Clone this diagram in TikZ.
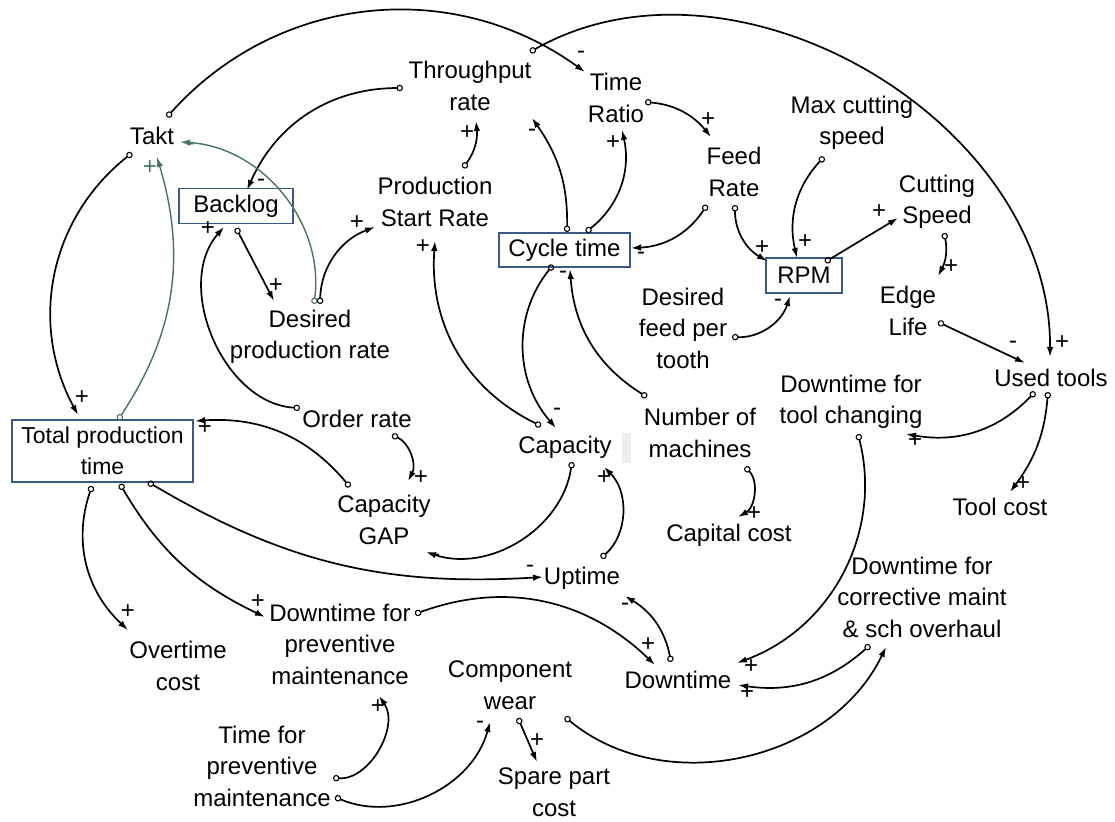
\documentclass[tikz,border=0pt]{standalone}
\usepackage{fontspec}
\setmainfont{Liberation Sans}
\usetikzlibrary{arrows.meta,calc}
\definecolor{boxblue}{RGB}{60,88,138}
\definecolor{loopgreen}{RGB}{74,116,98}
\tikzset{
  var/.style={align=center, inner sep=0pt, font=\fontsize{24}{31.5}\selectfont},
  boxed/.style={var, draw=boxblue, line width=1.6pt},
  link/.style={line width=1.7pt,
    {Circle[open,length=6.5pt,line width=1.1pt]}-{Latex[length=10pt,width=6.5pt]}},
  glink/.style={link, draw=loopgreen, line width=1.4pt},
  sign/.style={inner sep=0pt, font=\fontsize{24}{24}\selectfont},
  gsign/.style={sign, text=loopgreen},
}
\begin{document}
\begin{tikzpicture}[x=1pt,y=-1pt]
\fill[white] (0,0) rectangle (1115,821);
\useasboundingbox (0,0) rectangle (1115,821);

% faint shaded strip beside Capacity
\fill[black!7] (622,433) rectangle (631,463);

% variables
\node[var] (takt) at (152,136) {Takt};
\node[var] (thru) at (470,86) {Throughput\\rate};
\node[var] (timeratio) at (616,98) {Time\\Ratio};
\node[var] (maxcut) at (852,123) {Max cutting\\speed};
\node[var] (feed) at (734,172) {Feed\\Rate};
\node[var] (cutspeed) at (937,202) {Cutting\\Speed};
\node[boxed, minimum width=114pt, minimum height=35pt] (backlog) at (236,206) {Backlog};
\node[var] (pstart) at (435,202) {Production\\Start Rate};
\node[boxed, minimum width=131pt, minimum height=34pt] (cycle) at (564.5,250) {Cycle time};
\node[boxed, minimum width=76pt, minimum height=35pt] (rpm) at (804,275.5) {RPM};
\node[var] (edge) at (908,311) {Edge\\Life};
\node[var] (desprod) at (310,337) {Desired\\production rate};
\node[var] (desfeed) at (683,328) {Desired\\feed per\\tooth};
\node[var] (used) at (1051,378) {Used tools};
\node[var] (dttool) at (851,402) {Downtime for\\tool changing};
\node[var] (order) at (357,419) {Order rate};
\node[boxed, minimum width=181pt, minimum height=62pt,
      font=\fontsize{23}{31}\selectfont] (tpt) at (102.5,451) {Total production\\time};
\node[var] (capacity) at (565,447) {Capacity};
\node[var] (nmach) at (700,433) {Number of\\machines};
\node[var] (capgap) at (384,520) {Capacity\\GAP};
\node[var] (capital) at (729,535) {Capital cost};
\node[var] (toolcost) at (1000,507) {Tool cost};
\node[var] (uptime) at (582,578) {Uptime};
\node[var] (dcm) at (922,597) {Downtime for\\corrective maint\\\& sch overhaul};
\node[var] (overtime) at (178,666) {Overtime\\cost};
\node[var] (dpm) at (340,644) {Downtime for\\preventive\\maintenance};
\node[var] (compwear) at (510,685) {Component\\wear};
\node[var] (downtime) at (678,680) {Downtime};
\node[var] (tpm) at (262,766) {Time for\\preventive\\maintenance};
\node[var] (spare) at (554,792) {Spare part\\cost};

% causal links
\draw[link] ($(takt)+(15,-19)$) to[bend left=42] ($(timeratio)+(-31,-26)$);
\draw[link] ($(thru)+(60,-34)$) to[bend left=60] ($(used)+(-1,-21)$);
\draw[link] ($(thru)+(-67,2)$) to[bend right=33] ($(backlog)+(11,-16)$);
\draw[link] ($(takt)+(-20,17)$) to[bend right=40] ($(tpt)+(-24.5,-36)$);
\draw[glink] ($(tpt)+(15.5,-31)$) to[bend right=25] ($(takt)+(5,21)$);
\draw[glink] ($(desprod)+(4,-33)$) to[bend right=47] ($(takt)+(28,6)$);
\draw[link] ($(backlog)+(0,22)$) -- ($(desprod)+(-36,-36)$);
\draw[link] ($(order)+(-57,-11)$) to[bend left=64] ($(backlog)+(-12,21)$);
\draw[link] ($(desprod)+(10,-33)$) to[bend left=34] ($(pstart)+(-60,25)$);
\draw[link] ($(pstart)+(28,-34)$) to[bend right=21] ($(thru)+(6,35)$);
\draw[link] ($(cycle)+(2.5,-18)$) to[bend right=18] ($(thru)+(62,32)$);
\draw[link] ($(cycle)+(21.5,-18)$) to[bend right=32] ($(timeratio)+(6,32)$);
\draw[link] ($(timeratio)+(29,4)$) to[bend left=23] ($(feed)+(-23,-35)$);
\draw[link] ($(feed)+(-27,33)$) to[bend left=27] ($(cycle)+(66.5,-2)$);
\draw[link] ($(feed)+(1,33)$) to[bend right=30] ($(rpm)+(-37,-14.5)$);
\draw[link] ($(maxcut)+(-28,34)$) to[bend right=28] ($(rpm)+(-7,-17.5)$);
\draw[link] ($(rpm)+(21,-13.5)$) -- ($(cutspeed)+(-39,16)$);
\draw[link] ($(desfeed)+(49,9)$) to[bend right=37] ($(rpm)+(-14,20.5)$);
\draw[link] ($(cutspeed)+(7,31)$) to[bend left=20] ($(edge)+(30,-35)$);
\draw[link] ($(edge)+(30,11)$) -- ($(used)+(-26,-15)$);
\draw[link] ($(used)+(-16,14)$) to[bend left=28] ($(dttool)+(55,32)$);
\draw[link] ($(used)+(-3,14)$) to[bend left=16] ($(toolcost)+(10,-15)$);
\draw[link] ($(dttool)+(7,32)$) to[bend left=42] ($(downtime)+(59,-17)$);
\draw[link] ($(dcm)+(-52,48)$) to[bend left=25] ($(downtime)+(60,5)$);
\draw[link] ($(compwear)+(55,32)$) to[bend right=52] ($(dcm)+(-36,50)$);
\draw[link] ($(uptime)+(19,-20)$) to[bend right=47] ($(capacity)+(39,20)$);
\draw[link] ($(capacity)+(7,15)$) to[bend left=50] ($(capgap)+(42,32)$);
\draw[link] ($(cycle)+(-11.5,15)$) to[bend right=40] ($(capacity)+(-9,-19)$);
\draw[link] ($(nmach)+(-53,-36)$) to[bend left=27] ($(cycle)+(5.5,19)$);
\draw[link] ($(capacity)+(-24,-21)$) to[bend left=34] ($(pstart)+(0,39)$);
\draw[link] ($(capgap)+(-34,-33)$) to[bend right=27] ($(tpt)+(92.5,-30)$);
\draw[link] ($(order)+(35,16)$) to[bend left=47] ($(capgap)+(24,-39)$);
\draw[link] ($(tpt)+(-10.5,35)$) to[bend right=33] ($(overtime)+(-50,-36)$);
\draw[link] ($(tpt)+(17.5,33)$) to[bend right=17] ($(dpm)+(-75,-27)$);
\draw[link] ($(tpt)+(45.5,31)$) to[bend right=17] ($(uptime)+(-39,-1)$);
\draw[link] ($(dpm)+(75,-30)$) to[bend left=32] ($(downtime)+(-23,-15)$);
\draw[link] ($(downtime)+(-7,-18)$) to[bend right=24] ($(uptime)+(43,18)$);
\draw[link] ($(tpm)+(71,12)$) to[bend right=64] ($(dpm)+(39,52)$);
\draw[link] ($(tpm)+(73,31)$) to[bend right=49] ($(compwear)+(-20,37)$);
\draw[link] ($(compwear)+(8,33)$) -- ($(spare)+(-17,-30)$);
\draw[link] ($(nmach)+(45,34)$) to[bend left=53] ($(capital)+(9,-18)$);

% link polarities
\node[sign] (s1) at (581,55) {-};
\node[sign] (s2) at (1062,343) {+};
\node[sign] (s3) at (261,183) {-};
\node[sign] (s4) at (82,398) {+};
\node[gsign] (s5) at (150,168) {+};
\node[gsign] (s6) at (190,147) {-};
\node[sign] (s7) at (276,286) {+};
\node[sign] (s8) at (208,229) {+};
\node[sign] (s9) at (357,223) {+};
\node[sign] (s10) at (467,133) {+};
\node[sign] (s11) at (532,133) {-};
\node[sign] (s12) at (613,143) {+};
\node[sign] (s13) at (708,120) {+};
\node[sign] (s14) at (641,256) {-};
\node[sign] (s15) at (762,248) {+};
\node[sign] (s16) at (805,242) {+};
\node[sign] (s17) at (879,212) {+};
\node[sign] (s18) at (778,303) {-};
\node[sign] (s19) at (951,267) {+};
\node[sign] (s20) at (1013,345) {-};
\node[sign] (s21) at (915,441) {+};
\node[sign] (s22) at (1023,484) {+};
\node[sign] (s23) at (751,667) {+};
\node[sign] (s24) at (747,693) {+};
\node[sign] (s26) at (604,478) {+};
\node[sign] (s27) at (436,558) {-};
\node[sign] (s28) at (557,412) {-};
\node[sign] (s29) at (563,275) {-};
\node[sign] (s30) at (423,247) {+};
\node[sign] (s31) at (205,428) {+};
\node[sign] (s32) at (421,478) {+};
\node[sign] (s33) at (128,612) {+};
\node[sign] (s34) at (258,602) {+};
\node[sign] (s35) at (530,569) {-};
\node[sign] (s36) at (648,645) {+};
\node[sign] (s37) at (625,607) {-};
\node[sign] (s38) at (378,707) {+};
\node[sign] (s39) at (480,725) {-};
\node[sign] (s40) at (537,741) {+};
\node[sign] (s41) at (754,514) {+};
\end{tikzpicture}
\end{document}
